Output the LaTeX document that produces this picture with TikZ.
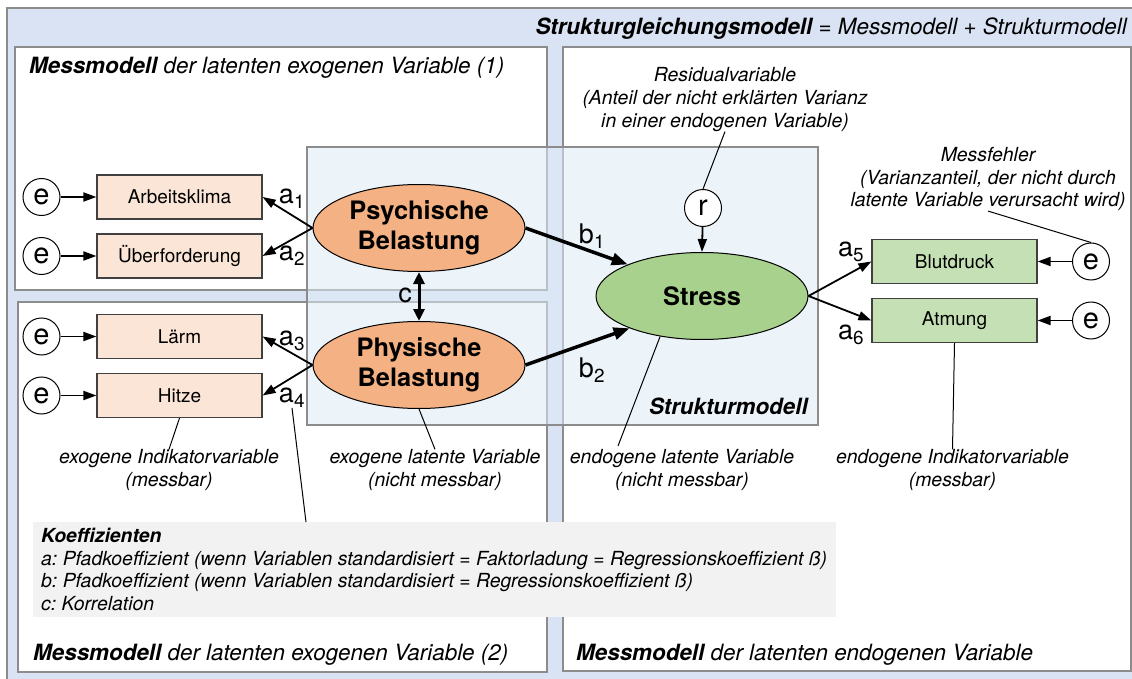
\documentclass[tikz,border=0pt]{standalone}
\usepackage{fontspec}
\setmainfont{TeX Gyre Heros}
\usetikzlibrary{arrows.meta,shapes.geometric}
\frenchspacing

\definecolor{outerblue}{HTML}{DAE3F3}
\definecolor{strukblue}{HTML}{DDEBF7}
\definecolor{framegray}{HTML}{8C8C8C}
\definecolor{rectgray}{HTML}{404040}
\definecolor{exofill}{HTML}{FBE5D6}
\definecolor{exolatent}{HTML}{F4B183}
\definecolor{endofill}{HTML}{C5E0B4}
\definecolor{endolatent}{HTML}{A9D18E}
\definecolor{koeffgray}{HTML}{F2F2F2}

\begin{document}
\begin{tikzpicture}[x=1pt,y=-1pt,
	modelbox/.style={draw=framegray,line width=1.5pt},
	indicator/.style={draw=rectgray,line width=1.2pt,minimum width=165pt,minimum height=44pt,inner sep=0pt,font=\fontsize{19}{22.7}\selectfont},
	latent/.style={ellipse,draw,line width=1pt,minimum width=212pt,minimum height=87pt,inner sep=0pt,align=center,font=\fontsize{25.4}{30}\selectfont\bfseries},
	err/.style={circle,draw,line width=1pt,fill=white,minimum size=37pt,inner sep=0pt,font=\fontsize{29}{34}\selectfont},
	coef/.style={inner sep=0pt,font=\fontsize{27}{32}\selectfont},
	note/.style={align=center,inner sep=0pt,font=\fontsize{19.4}{22.7}\selectfont\itshape},
	heading/.style={inner sep=0pt,font=\fontsize{22.4}{27}\selectfont\itshape},
	loading/.style={-{Triangle[length=13pt,width=9pt]},line width=1.8pt},
	effect/.style={-{Triangle[length=16pt,width=12pt]},line width=3.5pt},
	corr/.style={{Triangle[length=12pt,width=11pt]}-{Triangle[length=12pt,width=11pt]},line width=3pt},
	pointer/.style={line width=1pt}]
	\useasboundingbox (0,0) rectangle (1132,679);
	\clip (0,0) rectangle (1132,679);
	
	% Rahmen
	\draw[modelbox,fill=outerblue] (7,8) rectangle (1145,690);
	\draw[modelbox,fill=white] (15,47) rectangle (547,290);
	\draw[modelbox,fill=white] (18,302) rectangle (547,672);
	\draw[modelbox,fill=white] (563,47) rectangle (1131,671);
	\draw[modelbox,fill=strukblue,fill opacity=0.55] (307,147) rectangle (818,425);
	\fill[koeffgray] (33,522) rectangle (836,617);
	
	\path
	(306,522) coordinate (a4tip)
	(618,446) coordinate (endolattip);
	
	% Titel
	\node[heading,anchor=base east] (sem) at (1127,35) {\textbf{Strukturgleichungsmodell} = Messmodell + Strukturmodell};
	\node[heading,anchor=base west] (mm1) at (29,74) {\textbf{Messmodell} der latenten exogenen Variable (1)};
	\node[heading,anchor=base west] (mm2) at (33,660) {\textbf{Messmodell} der latenten exogenen Variable (2)};
	\node[heading,anchor=base west] (mm3) at (576,660) {\textbf{Messmodell} der latenten endogenen Variable};
	\node[heading,anchor=base east] (struk) at (808,414) {\textbf{Strukturmodell}};
	
	% Variablen
	\node[err] (e1) at (41.5,197) {e};
	\node[err] (e2) at (41.5,256) {e};
	\node[err] (e3) at (41.5,336.5) {e};
	\node[err] (e4) at (41.5,395.5) {e};
	\node[indicator,fill=exofill] (arbeit) at (179.5,197) {Arbeitsklima};
	\node[indicator,fill=exofill] (ueber) at (179.5,256) {Überforderung};
	\node[indicator,fill=exofill] (laerm) at (179.5,336.5) {Lärm};
	\node[indicator,fill=exofill] (hitze) at (179.5,395.5) {Hitze};
	\node[latent,fill=exolatent] (psych) at (419,228) {Psychische\\Belastung};
	\node[latent,fill=exolatent] (phys) at (419,365) {Physische\\Belastung};
	\node[latent,fill=endolatent] (stress) at (702,296) {Stress};
	\node[err] (r) at (703,208) {r};
	\node[indicator,fill=endofill] (blut) at (954.5,261.5) {Blutdruck};
	\node[indicator,fill=endofill] (atmung) at (954.5,320.5) {Atmung};
	\node[err] (e5) at (1091,261.5) {e};
	\node[err] (e6) at (1091,320.5) {e};
	
	% Koeffizienten
	\node[coef] (a1) at (292,199) {a\textsubscript{1}};
	\node[coef] (a2) at (292,256) {a\textsubscript{2}};
	\node[coef] (a3) at (292,341) {a\textsubscript{3}};
	\node[coef] (a4) at (292,398) {a\textsubscript{4}};
	\node[coef] (a5) at (851,252) {a\textsubscript{5}};
	\node[coef] (a6) at (851,335) {a\textsubscript{6}};
	\node[coef] (b1) at (592,236) {b\textsubscript{1}};
	\node[coef] (b2) at (592,370) {b\textsubscript{2}};
	\node[coef] (c) at (405,295) {c};
	
	\draw[loading] (e1) -- (arbeit);
	\draw[loading] (e2) -- (ueber);
	\draw[loading] (e3) -- (laerm);
	\draw[loading] (e4) -- (hitze);
	\draw[loading] (psych.west) -- (arbeit.east);
	\draw[loading] (psych.west) -- (ueber.east);
	\draw[loading] (phys.west) -- (laerm.east);
	\draw[loading] (phys.west) -- (hitze.east);
	\draw[effect] (psych.east) -- (stress.157);
	\draw[effect] (phys.east) -- (stress.204);
	\draw[corr] (psych.south) -- (phys.north);
	\draw[loading] (r) -- (stress.north);
	\draw[loading] (stress.east) -- (blut.west);
	\draw[loading] (stress.east) -- (atmung.west);
	\draw[loading] (e5) -- (blut);
	\draw[loading] (e6) -- (atmung);
	
	% Erklaerungen
	\node[note] (residual) at (725,99.5) {Residualvariable\\(Anteil der nicht erklärten Varianz\\in einer endogenen Variable)};
	\node[note] (messfehler) at (988,179) {Messfehler\\(Varianzanteil, der nicht durch\\latente Variable verursacht wird)};
	\node[note] (exoind) at (169,470) {exogene Indikatorvariable\\(messbar)};
	\node[note] (exolat) at (435,470) {exogene latente Variable\\(nicht messbar)};
	\node[note] (endolat) at (682,470) {endogene latente Variable\\(nicht messbar)};
	\node[note] (endoind) at (952.5,470) {endogene Indikatorvariable\\(messbar)};
	
	\draw[pointer] (residual.south) -- (r.north);
	\draw[pointer] (messfehler.south) -- (e5.north);
	\draw[pointer] (hitze.south) -- (exoind.north);
	\draw[pointer] (phys.south) -- (exolat.north);
	\draw[pointer] (stress.224) -- (endolattip);
	\draw[pointer] (atmung.south) -- (endoind.north);
	\draw[pointer] (a4.south) -- (a4tip);
	
	\node[anchor=north west,inner sep=0pt,align=left,font=\fontsize{19.4}{22.7}\selectfont\itshape] (koeff) at (41,528) {\textbf{Koeffizienten}\\a: Pfadkoeffizient (wenn Variablen standardisiert = Faktorladung = Regressionskoeffizient ß)\\b: Pfadkoeffizient (wenn Variablen standardisiert = Regressionskoeffizient ß)\\c: Korrelation};
\end{tikzpicture}
\end{document}
